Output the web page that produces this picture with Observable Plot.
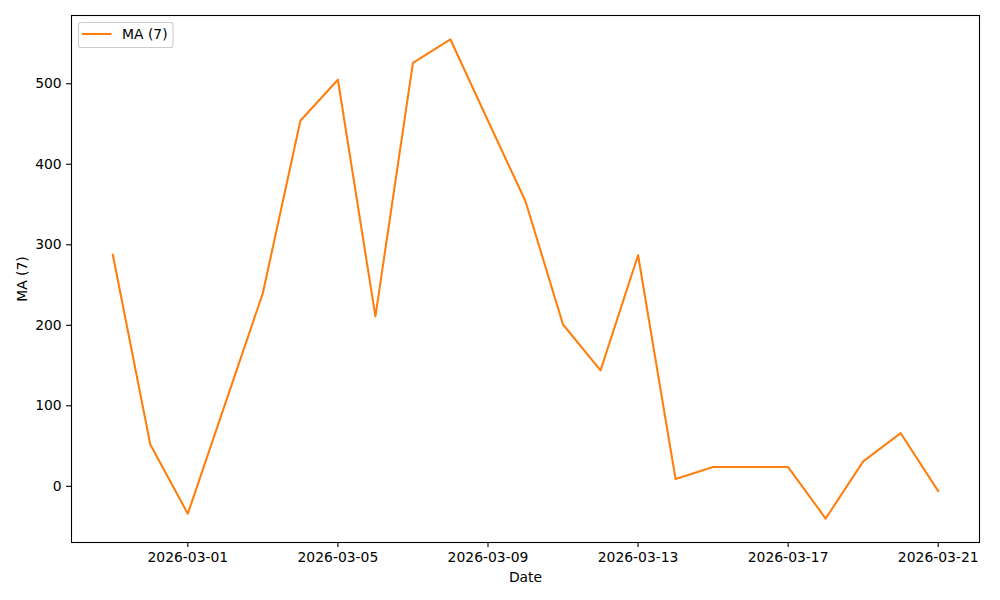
<!DOCTYPE html>
<html>
<head>
<meta charset="utf-8">
<script src="https://cdn.jsdelivr.net/npm/d3@7"></script>
<script src="https://cdn.jsdelivr.net/npm/@observablehq/plot@0.6"></script>
<style>
  html, body { margin: 0; padding: 0; background: white; }
</style>
</head>
<body>
<div id="chart"></div>
<script>
const dates = ["2026-02-27","2026-02-28","2026-03-01","2026-03-02","2026-03-03","2026-03-04","2026-03-05","2026-03-06","2026-03-07","2026-03-08","2026-03-09","2026-03-10","2026-03-11","2026-03-12","2026-03-13","2026-03-14","2026-03-15","2026-03-16","2026-03-17","2026-03-18","2026-03-19","2026-03-20","2026-03-21"];
const ma7 = [288, 52, -34, 103, 240, 454, 505, 211, 526, 555, 454, 354, 201, 144, 287, 9, 24, 24, 24, -40, 31, 66, -6];
const xTickLabels = ["2026-03-01","2026-03-05","2026-03-09","2026-03-13","2026-03-17","2026-03-21"];
const yTicks = [0, 100, 200, 300, 400, 500];
const seriesName = "MA (7)";
const xLabel = "Date";
const yLabel = "MA (7)";

const data = dates.map((d, i) => ({date: new Date(d), value: ma7[i]}));
const xTicks = xTickLabels.map(d => new Date(d));

const t0 = data[0].date.getTime(), t1 = data[data.length - 1].date.getTime();
const xPad = (t1 - t0) * 0.05;
const yMin = d3.min(ma7), yMax = d3.max(ma7);
const yPad = (yMax - yMin) * 0.05;

const font = "DejaVu Sans, sans-serif";
const fs = 13.9;

const chart = Plot.plot({
  width: 1000,
  height: 600,
  marginLeft: 71,
  marginRight: 21,
  marginTop: 15,
  marginBottom: 58,
  style: {fontFamily: font, fontSize: fs + "px", background: "white", color: "black"},
  x: {type: "utc", domain: [new Date(t0 - xPad), new Date(t1 + xPad)]},
  y: {domain: [yMin - yPad, yMax + yPad]},
  marks: [
    Plot.axisX({ticks: xTicks, tickFormat: d3.utcFormat("%Y-%m-%d"), tickSize: 4.9, tickPadding: 4.9, strokeWidth: 1.1, label: null, fontSize: fs}),
    Plot.axisY({ticks: yTicks, tickFormat: d => d, tickSize: 4.9, tickPadding: 4.9, strokeWidth: 1.1, label: null, fontSize: fs}),
    Plot.line(data, {x: "date", y: "value", stroke: "#ff7f0e", strokeWidth: 2.08, strokeLinejoin: "round"}),
    Plot.frame({stroke: "black", strokeWidth: 1.1}),
    Plot.text([xLabel], {text: d => d, frameAnchor: "bottom", lineAnchor: "middle", textAnchor: "middle", dy: 35, fontSize: fs, fill: "black"}),
    Plot.text([yLabel], {text: d => d, frameAnchor: "left", lineAnchor: "middle", textAnchor: "middle", dx: -49, rotate: -90, fontSize: fs, fill: "black"})
  ]
});

// legend (matplotlib-style, upper left)
const svg = d3.select(chart);
const lg = svg.append("g").attr("font-family", font).attr("font-size", fs).attr("text-anchor", "start");
lg.append("rect")
  .attr("x", 78.5).attr("y", 22.5).attr("width", 94.5).attr("height", 25)
  .attr("rx", 2.8).attr("fill", "white").attr("fill-opacity", 0.8)
  .attr("stroke", "#cccccc").attr("stroke-width", 1.1);
lg.append("line")
  .attr("x1", 82).attr("x2", 111.5).attr("y1", 34).attr("y2", 34)
  .attr("stroke", "#ff7f0e").attr("stroke-width", 2.08);
lg.append("text")
  .attr("x", 122).attr("y", 34).attr("dy", "0.35em")
  .attr("text-anchor", "start")
  .attr("fill", "black").text(seriesName);

document.getElementById("chart").appendChild(chart);
</script>
</body>
</html>
